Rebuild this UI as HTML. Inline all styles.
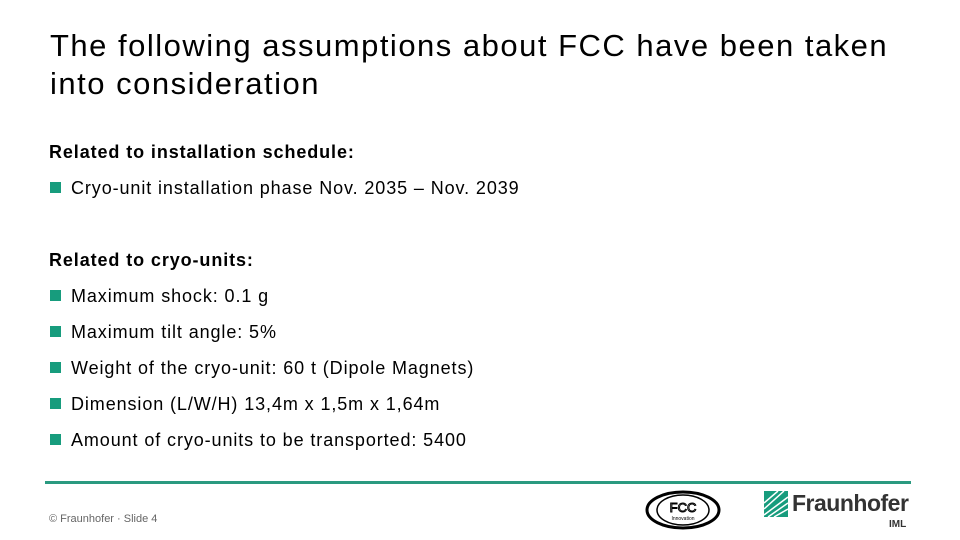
<!DOCTYPE html>
<html><head><meta charset="utf-8"><style>
body{margin:0;width:960px;height:540px;background:#fff;position:relative;overflow:hidden;font-family:"Liberation Sans",sans-serif;color:#000}
.abs{position:absolute;white-space:nowrap}
h1{position:absolute;left:50px;top:27px;margin:0;font-size:31px;font-weight:normal;line-height:38px;letter-spacing:1.5px}
.h{font-size:18px;font-weight:bold;letter-spacing:0.9px}
.b{font-size:18px;letter-spacing:0.9px}
.b i{display:inline-block;width:11px;height:11px;background:#179c7d;margin-right:10px;vertical-align:1px}
</style></head><body>
<h1>The following assumptions about FCC have been taken<br>into consideration</h1>
<div class="abs h" style="left:49px;top:142px">Related to installation schedule:</div>
<div class="abs b" style="left:50px;top:178px"><i></i>Cryo-unit installation phase Nov. 2035 – Nov. 2039</div>
<div class="abs h" style="left:49px;top:250px">Related to cryo-units:</div>
<div class="abs b" style="left:50px;top:286px"><i></i>Maximum shock: 0.1 g</div>
<div class="abs b" style="left:50px;top:322px"><i></i>Maximum tilt angle: 5%</div>
<div class="abs b" style="left:50px;top:358px"><i></i>Weight of the cryo-unit: 60 t (Dipole Magnets)</div>
<div class="abs b" style="left:50px;top:394px"><i></i>Dimension (L/W/H) 13,4m x 1,5m x 1,64m</div>
<div class="abs b" style="left:50px;top:430px"><i></i>Amount of cryo-units to be transported: 5400</div>
<div class="abs" style="left:45px;top:481px;width:866px;height:3px;background:#2a9a80"></div>
<div class="abs" style="left:49px;top:513px;font-size:11px;color:#666">© Fraunhofer · Slide 4</div>
<svg class="abs" style="left:645px;top:490px" width="76" height="40">
<ellipse cx="38" cy="20" rx="36" ry="18" fill="none" stroke="#000" stroke-width="3"/>
<ellipse cx="38" cy="20" rx="26" ry="15" fill="none" stroke="#000" stroke-width="1.5"/>
<text x="38" y="22" font-size="13" text-anchor="middle" font-family="Liberation Sans" fill="#fff" stroke="#000" stroke-width="1">FCC</text>
<text x="38" y="30" font-size="5" text-anchor="middle" font-family="Liberation Sans">Innovation</text>
</svg>
<svg class="abs" style="left:764px;top:491px" width="24" height="26">
<rect width="24" height="26" fill="#179c7d"/>
<path d="M0 24 L24 6 M0 18 L20 0 M4 26 L24 12 M0 12 L14 0 M10 26 L24 18" stroke="#fff" stroke-width="1.5"/>
</svg>
<div class="abs" style="left:792px;top:490px;font-size:23px;font-weight:bold;color:#333;letter-spacing:-0.5px">Fraunhofer</div>
<div class="abs" style="left:889px;top:519px;font-size:10px;font-weight:bold;color:#333">IML</div>
</body></html>
